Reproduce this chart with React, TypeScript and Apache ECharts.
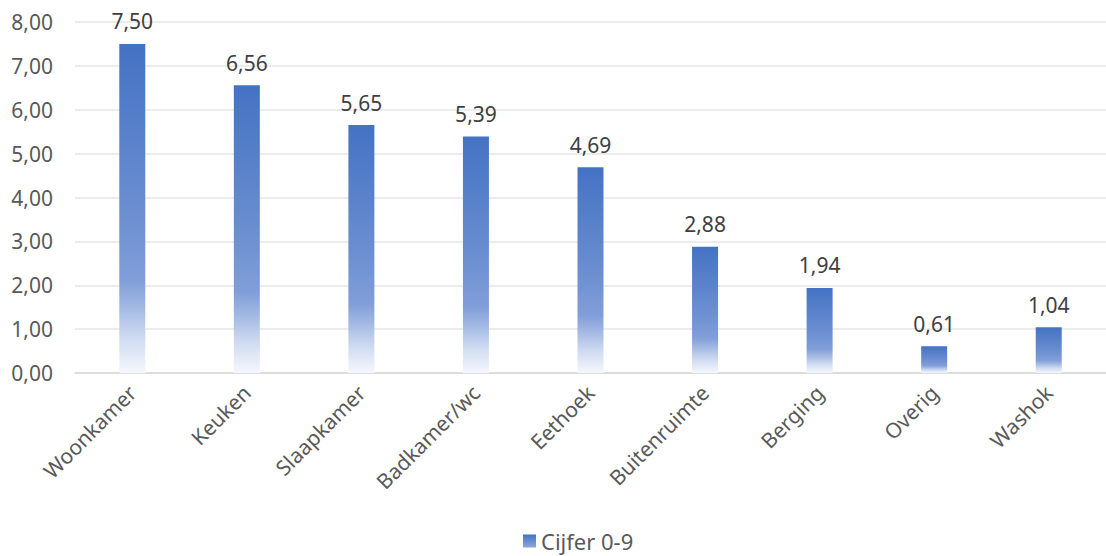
import React, { useEffect, useRef } from "react";
import * as echarts from "echarts";

const categories = ["Woonkamer", "Keuken", "Slaapkamer", "Badkamer/wc", "Eethoek", "Buitenruimte", "Berging", "Overig", "Washok"];
const values = [7.5, 6.56, 5.65, 5.39, 4.69, 2.88, 1.94, 0.61, 1.04];
const seriesName = "Cijfer 0-9";
const yTicks = { min: 0, max: 8, interval: 1 };

const fmt = (v: number) => v.toFixed(2).replace(".", ",");

export default function App() {
  const ref = useRef<HTMLDivElement>(null);
  useEffect(() => {
    document.body.style.margin = "0";
    const chart = echarts.init(ref.current!, null, { renderer: "svg" });
    const top = 22;
    const bottom = 373;
    const grad = new echarts.graphic.LinearGradient(0, 0, 0, 1, [
      { offset: 0, color: "#4472C4" },
      { offset: 0.5, color: "#6A8ED0" },
      { offset: 0.72, color: "#819ED9" },
      { offset: 0.8, color: "#A3B9E3" },
      { offset: 0.9, color: "#D2DDF2" },
      { offset: 1, color: "#F5F7FC" },
    ]);
    const legendGrad = new echarts.graphic.LinearGradient(0, 0, 0, 1, [
      { offset: 0, color: "#4472C4" },
      { offset: 1, color: "#8CA7DC" },
    ]);
    const font = "'Noto Sans', sans-serif";
    chart.setOption({
      animation: false,
      grid: { left: 75, right: -10, top, bottom: 556 - bottom, containLabel: false },
      legend: {
        bottom: -1,
        left: 518,
        itemWidth: 13,
        itemHeight: 13,
        itemGap: 4,
        icon: "rect",
        textStyle: { color: "#595959", fontSize: 22, fontFamily: font },
        data: [{ name: seriesName, itemStyle: { color: legendGrad } }],
      },
      xAxis: {
        type: "category",
        data: categories,
        axisLine: { show: true, lineStyle: { color: "#D9D9D9", width: 1.5 } },
        axisTick: { show: false },
        axisLabel: { rotate: 45, color: "#595959", fontSize: 21, fontFamily: font, margin: 16, interval: 0 },
      },
      yAxis: {
        type: "value",
        min: yTicks.min,
        max: yTicks.max,
        interval: yTicks.interval,
        axisLine: { show: false },
        axisTick: { show: false },
        splitLine: { lineStyle: { color: "#E6E6E6", width: 1.5 } },
        axisLabel: { color: "#595959", fontSize: 21, fontFamily: font, margin: 22, formatter: (v: number) => fmt(v) },
      },
      series: [
        {
          name: seriesName,
          type: "bar",
          data: values,
          barWidth: 26,
          itemStyle: { color: grad },
          label: {
            show: true,
            position: "top",
            distance: 12,
            color: "#404040",
            fontSize: 21,
            fontFamily: font,
            formatter: (p: any) => fmt(p.value),
          },
        },
      ],
    });
    return () => chart.dispose();
  }, []);
  return <div ref={ref} style={{ width: 1106, height: 556 }} />;
}
